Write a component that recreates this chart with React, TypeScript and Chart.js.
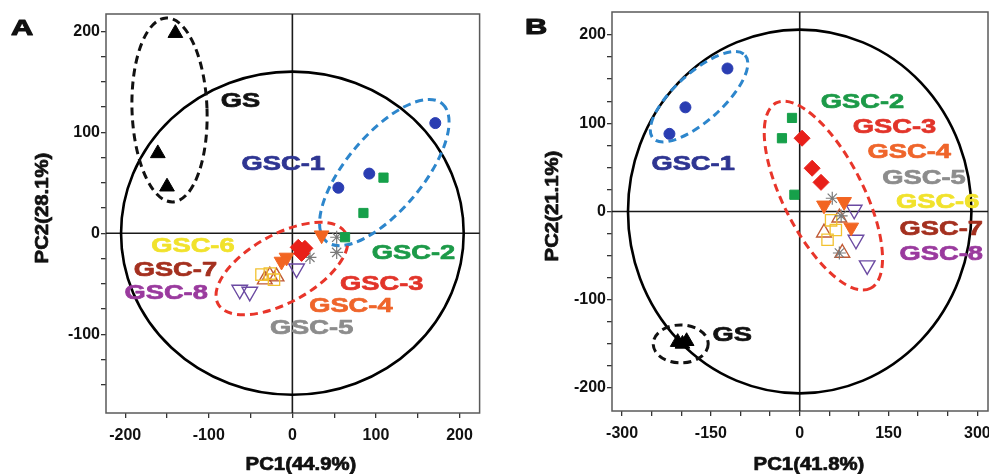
import React, { useEffect, useRef } from 'react';
import { Chart, registerables } from 'chart.js';

Chart.register(...registerables);

// ---------- DATA ----------
const GROUPS = ['GS', 'GSC-1', 'GSC-2', 'GSC-3', 'GSC-4', 'GSC-5', 'GSC-6', 'GSC-7', 'GSC-8'];

// Panel A scores (PC1, PC2), one inner array per group
const A_PC1 = [
  [-140, -161, -150],
  [171, 92, 55],
  [109, 85, 63],
  [7, 15, 11],
  [35, -7, -13],
  [53, 53, 21],
  [-37, -27, -22],
  [-27, -19, -33],
  [-63, -51, 5],
];
const A_PC2 = [
  [198, 79, 46],
  [109, 59, 45],
  [55, 20, -4],
  [-14, -15, -20],
  [-2, -24, -28],
  [-4, -19, -24],
  [-41, -40, -46],
  [-42, -43, -46],
  [-56, -58, -35],
];

// Panel B scores
const B_PC1 = [
  [-206, -198, -191],
  [-220, -193, -122],
  [-13, -30, -9],
  [4, 21, 36],
  [41, 75, 87],
  [55, 67, 70],
  [53, 61, 47],
  [41, 67, 72],
  [92, 95, 114],
];
const B_PC2 = [
  [-148, -150, -147],
  [88, 118, 162],
  [106, 83, 19],
  [83, 49, 33],
  [7, 11, -18],
  [15, -47, -5],
  [-10, -21, -32],
  [-24, -7, -47],
  [2, -32, -61],
];

// Tick labels
const A_X_LABELS = [-200, -100, 0, 100, 200];
const A_Y_LABELS = [-100, 0, 100, 200];
const B_X_LABELS = [-300, -150, 0, 150, 300];
const B_Y_LABELS = [-200, -100, 0, 100, 200];

const A_X_TITLE = 'PC1(44.9%)';
const A_Y_TITLE = 'PC2(28.1%)';
const B_X_TITLE = 'PC1(41.8%)';
const B_Y_TITLE = 'PC2(21.1%)';

// Group label anchors (data coordinates)
const A_LABEL_X = [-62, -11, 145, 107, 70, 23, -119, -140, -151];
const A_LABEL_Y = [131, 68, -20, -50, -72, -94, -13, -37, -59];
const B_LABEL_X = [-114, -180, 106, 160, 185, 210, 233, 239, 239];
const B_LABEL_Y = [-140, 54, 124, 96, 67, 38, 11, -20, -48];

// ---------- STYLES ----------
const FONT = '"Liberation Sans", Arial, Helvetica, sans-serif';

const LABEL_COLORS = ['#111111', '#2e3592', '#1c9a48', '#e2342a', '#ef652b', '#8c8c8c', '#f1e22c', '#a4301f', '#9a3a9e'];

const MARKERS = [
  { style: 'triangle', rot: 0, fill: '#000000', stroke: '#000000', r: 8.5, bw: 1 },
  { style: 'circle', rot: 0, fill: '#2a3db2', stroke: '#2a3db2', r: 5.5, bw: 1 },
  { style: 'rect', rot: 0, fill: '#16a04a', stroke: '#16a04a', r: 6.5, bw: 1 },
  { style: 'rectRot', rot: 0, fill: '#e8201a', stroke: '#e8201a', r: 8, bw: 1 },
  { style: 'triangle', rot: 180, fill: '#f26522', stroke: '#f26522', r: 8.5, bw: 1 },
  { style: 'star', rot: 0, fill: 'rgba(0,0,0,0)', stroke: '#7a7a7a', r: 6.5, bw: 1.2 },
  { style: 'rect', rot: 0, fill: 'rgba(0,0,0,0)', stroke: '#f2c230', r: 8, bw: 1.3 },
  { style: 'triangle', rot: 0, fill: 'rgba(0,0,0,0)', stroke: '#c05a35', r: 8.5, bw: 1.4 },
  { style: 'triangle', rot: 180, fill: 'rgba(0,0,0,0)', stroke: '#6b4aa2', r: 9, bw: 1.4 },
];

type Ell = { cx: number; cy: number; a: number; b: number; angle: number; color: string };

const A_ELLIPSES: Ell[] = [
  { cx: -147, cy: 122, a: 37.5, b: 92, angle: -2, color: '#111111' },
  { cx: 110, cy: 60, a: 90, b: 38, angle: -50, color: '#2d86cc' },
  { cx: -12.5, cy: -35, a: 73, b: 34, angle: -29, color: '#e8352a' },
];
const B_ELLIPSES: Ell[] = [
  { cx: -201, cy: -150, a: 27.5, b: 19, angle: 0, color: '#111111' },
  { cx: -170, cy: 130, a: 62, b: 24, angle: -42, color: '#2d86cc' },
  { cx: 40, cy: 18, a: 104, b: 40, angle: 63, color: '#e8352a' },
];

function stretchedText(ctx: CanvasRenderingContext2D, text: string, x: number, y: number, size: number, color: string, sx: number, rot = 0, bold = 0.7) {
  ctx.save();
  ctx.translate(x, y);
  if (rot) ctx.rotate(rot);
  ctx.scale(sx, 1);
  ctx.font = `bold ${size}px ${FONT}`;
  ctx.fillStyle = color;
  ctx.strokeStyle = color;
  ctx.lineWidth = bold;
  ctx.lineJoin = 'round';
  ctx.textAlign = 'center';
  ctx.textBaseline = 'middle';
  ctx.fillText(text, 0, 0);
  if (bold > 0) ctx.strokeText(text, 0, 0);
  ctx.restore();
}

const overlay = {
  id: 'overlay',
  beforeDatasetsDraw(chart: any, _args: any, opts: any) {
    const { ctx, chartArea: ca } = chart;
    const xs = chart.scales.x;
    const ys = chart.scales.y;
    ctx.save();
    // frame
    ctx.strokeStyle = '#5a5a5a';
    ctx.lineWidth = 1.5;
    ctx.strokeRect(ca.left, ca.top, ca.right - ca.left, ca.bottom - ca.top);
    // zero lines
    const x0 = xs.getPixelForValue(0);
    const y0 = ys.getPixelForValue(0);
    ctx.strokeStyle = '#1a1a1a';
    ctx.lineWidth = 1.6;
    ctx.beginPath();
    ctx.moveTo(x0, ca.top);
    ctx.lineTo(x0, ca.bottom);
    ctx.moveTo(ca.left, y0);
    ctx.lineTo(ca.right, y0);
    ctx.stroke();
    ctx.beginPath();
    ctx.rect(ca.left, ca.top, ca.right - ca.left, ca.bottom - ca.top);
    ctx.clip();
    // confidence ellipse
    const rx = Math.abs(xs.getPixelForValue(opts.circle[0]) - x0);
    const ry = Math.abs(ys.getPixelForValue(opts.circle[1]) - y0);
    ctx.strokeStyle = '#000';
    ctx.lineWidth = 2.6;
    ctx.beginPath();
    ctx.ellipse(x0, y0, rx, ry, 0, 0, Math.PI * 2);
    ctx.stroke();
    // group ellipses
    ctx.lineWidth = 3;
    ctx.setLineDash([8, 5]);
    for (const e of opts.ellipses as Ell[]) {
      ctx.strokeStyle = e.color;
      ctx.beginPath();
      ctx.ellipse(xs.getPixelForValue(e.cx), ys.getPixelForValue(e.cy), e.a, e.b, (e.angle * Math.PI) / 180, 0, Math.PI * 2);
      ctx.stroke();
    }
    ctx.restore();
  },
  afterDraw(chart: any, _args: any, opts: any) {
    const { ctx } = chart;
    const xs = chart.scales.x;
    const ys = chart.scales.y;
    for (let i = 0; i < GROUPS.length; i++) {
      stretchedText(ctx, GROUPS[i], xs.getPixelForValue(opts.lx[i]), ys.getPixelForValue(opts.ly[i]), 21, LABEL_COLORS[i], 1.3);
    }
    stretchedText(ctx, opts.xTitle, opts.xTitlePos[0], opts.xTitlePos[1], 18, '#111', 1.13);
    stretchedText(ctx, opts.yTitle, opts.yTitlePos[0], opts.yTitlePos[1], 18, '#111', 1.13, -Math.PI / 2);
    stretchedText(ctx, opts.letter, opts.letterPos[0], opts.letterPos[1], 22, '#111', 1.4, 0, 1);
  },
};

function buildTicks(min: number, max: number, step: number) {
  const out: number[] = [];
  for (let v = Math.ceil(min / step) * step; v <= max; v += step) {
    if (v - min > 3 && max - v > 3) out.push(v);
  }
  return out;
}

type PanelCfg = {
  pc1: number[][];
  pc2: number[][];
  xMin: number; xMax: number; yMin: number; yMax: number;
  xStep: number; yStep: number;
  xLabels: number[]; yLabels: number[];
  yAxisWidth: number; xAxisHeight: number;
  padding: { top: number; right: number; left: number; bottom: number };
  circle: [number, number];
  ellipses: Ell[];
  lx: number[]; ly: number[];
  xTitle: string; yTitle: string;
  xTitlePos: [number, number]; yTitlePos: [number, number];
  letter: string; letterPos: [number, number];
};

function Panel({ cfg, left, width }: { cfg: PanelCfg; left: number; width: number }) {
  const ref = useRef<HTMLCanvasElement | null>(null);
  useEffect(() => {
    if (!ref.current) return;
    const datasets = GROUPS.map((g, gi) => ({
      label: g,
      data: cfg.pc1[gi].map((x, i) => ({ x, y: cfg.pc2[gi][i] })),
      pointStyle: MARKERS[gi].style,
      rotation: MARKERS[gi].rot,
      pointRadius: MARKERS[gi].r,
      backgroundColor: MARKERS[gi].fill,
      borderColor: MARKERS[gi].stroke,
      borderWidth: MARKERS[gi].bw,
      showLine: false,
    }));
    const tickFont = { family: FONT, size: 16, weight: 'bold' as const };
    const chart = new Chart(ref.current, {
      type: 'scatter',
      data: { datasets: datasets as any },
      plugins: [overlay as any],
      options: {
        responsive: false,
        animation: false,
        events: [],
        layout: { padding: cfg.padding },
        plugins: {
          legend: { display: false },
          tooltip: { enabled: false },
          overlay: {
            circle: cfg.circle,
            ellipses: cfg.ellipses,
            lx: cfg.lx, ly: cfg.ly,
            xTitle: cfg.xTitle, yTitle: cfg.yTitle,
            xTitlePos: cfg.xTitlePos, yTitlePos: cfg.yTitlePos,
            letter: cfg.letter, letterPos: cfg.letterPos,
          },
        } as any,
        scales: {
          x: {
            type: 'linear',
            min: cfg.xMin,
            max: cfg.xMax,
            border: { display: false },
            grid: { drawOnChartArea: false, drawTicks: true, tickLength: 5, color: '#333', lineWidth: 1.3 },
            ticks: {
              autoSkip: false,
              maxRotation: 0,
              padding: 8,
              color: '#111',
              font: tickFont,
              callback: (v: any) => (cfg.xLabels.includes(Number(v)) ? String(v) : ''),
            },
            afterBuildTicks: (s: any) => {
              s.ticks = buildTicks(cfg.xMin, cfg.xMax, cfg.xStep).map((value) => ({ value }));
            },
            afterFit: (s: any) => {
              s.height = cfg.xAxisHeight;
              s.paddingLeft = 0;
              s.paddingRight = 0;
            },
          },
          y: {
            type: 'linear',
            min: cfg.yMin,
            max: cfg.yMax,
            border: { display: false },
            grid: { drawOnChartArea: false, drawTicks: true, tickLength: 5, color: '#333', lineWidth: 1.3 },
            ticks: {
              autoSkip: false,
              padding: 1,
              color: '#111',
              font: tickFont,
              callback: (v: any) => (cfg.yLabels.includes(Number(v)) ? String(v) : ''),
            },
            afterBuildTicks: (s: any) => {
              s.ticks = buildTicks(cfg.yMin, cfg.yMax, cfg.yStep).map((value) => ({ value }));
            },
            afterFit: (s: any) => {
              s.width = cfg.yAxisWidth;
              s.paddingTop = 0;
              s.paddingBottom = 0;
            },
          },
        },
      } as any,
    });
    return () => chart.destroy();
  }, [cfg]);
  return (
    <canvas
      ref={ref}
      width={width}
      height={474}
      style={{ position: 'absolute', left, top: 0, width, height: 474, display: 'block' }}
    />
  );
}

const PANEL_A: PanelCfg = {
  pc1: A_PC1, pc2: A_PC2,
  xMin: -223, xMax: 224, yMin: -178, yMax: 217,
  xStep: 50, yStep: 25,
  xLabels: A_X_LABELS, yLabels: A_Y_LABELS,
  yAxisWidth: 106, xAxisHeight: 61,
  padding: { top: 14, right: 10, left: 0, bottom: 0 },
  circle: [205, 160],
  ellipses: A_ELLIPSES,
  lx: A_LABEL_X, ly: A_LABEL_Y,
  xTitle: A_X_TITLE, yTitle: A_Y_TITLE,
  xTitlePos: [301, 465], yTitlePos: [43, 208],
  letter: 'A', letterPos: [22, 29],
};

const PANEL_B: PanelCfg = {
  pc1: B_PC1, pc2: B_PC2,
  xMin: -317, xMax: 318, yMin: -226, yMax: 226,
  xStep: 50, yStep: 25,
  xLabels: B_X_LABELS, yLabels: B_Y_LABELS,
  yAxisWidth: 122, xAxisHeight: 63,
  padding: { top: 12, right: 32, left: 0, bottom: 0 },
  circle: [290, 206],
  ellipses: B_ELLIPSES,
  lx: B_LABEL_X, ly: B_LABEL_Y,
  xTitle: B_X_TITLE, yTitle: B_Y_TITLE,
  xTitlePos: [319, 465], yTitlePos: [63, 206],
  letter: 'B', letterPos: [46, 28],
};

export default function App() {
  return (
    <div style={{ position: 'absolute', left: 0, top: 0, width: 989, height: 474, background: '#ffffff', overflow: 'hidden' }}>
      <Panel cfg={PANEL_A} left={0} width={490} />
      <Panel cfg={PANEL_B} left={490} width={530} />
    </div>
  );
}
